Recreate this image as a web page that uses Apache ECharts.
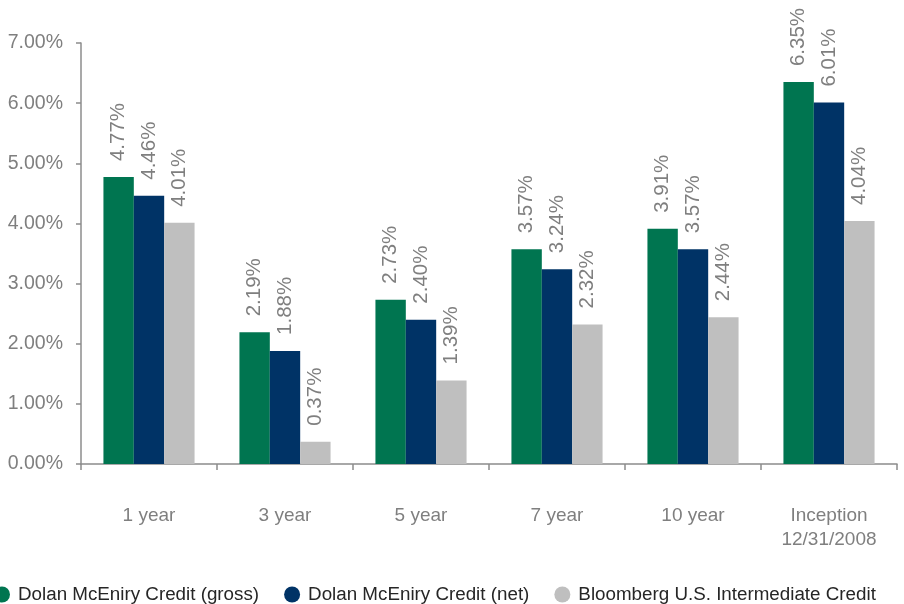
<!DOCTYPE html>
<html>
<head>
<meta charset="utf-8">
<script src="https://cdn.jsdelivr.net/npm/echarts@6/dist/echarts.min.js"></script>
<style>html,body{margin:0;padding:0;background:#fff;}#c{width:904px;height:604px;}</style>
</head>
<body>
<div id="c"></div>
<script>
const categories = ['1 year', '3 year', '5 year', '7 year', '10 year', 'Inception\n12/31/2008'];
const seriesNames = ['Dolan McEniry Credit (gross)', 'Dolan McEniry Credit (net)', 'Bloomberg U.S. Intermediate Credit'];
const grossValues = [4.77, 2.19, 2.73, 3.57, 3.91, 6.35];
const netValues = [4.46, 1.88, 2.40, 3.24, 3.57, 6.01];
const benchValues = [4.01, 0.37, 1.39, 2.32, 2.44, 4.04];
const colors = ['#007550', '#003366', '#BFBFBF'];

const font = 'Liberation Sans, Arial, sans-serif';
const labelCfg = {
  show: true,
  position: 'top',
  rotate: 90,
  align: 'left',
  verticalAlign: 'middle',
  distance: 16,
  color: '#7f7f7f',
  fontSize: 20.5,
  fontFamily: font,
  formatter: p => p.value.toFixed(2) + '%'
};
function mk(i, data) {
  return {
    name: seriesNames[i], type: 'bar', data: data,
    barGap: '0%', barCategoryGap: '33%',
    itemStyle: { color: colors[i] },
    label: labelCfg
  };
}
const chart = echarts.init(document.getElementById('c'));
chart.setOption({
  animation: false,
  grid: { left: 81, right: 7, top: 43, bottom: 140, containLabel: false },
  legend: {
    left: -6, top: 585, padding: 0,
    icon: 'circle', itemWidth: 16, itemHeight: 16, itemGap: 25,
    textStyle: { fontSize: 18.8, fontFamily: font, color: '#262626', padding: [0, 0, 0, 3] },
    data: seriesNames
  },
  xAxis: {
    type: 'category', data: categories,
    axisLine: { lineStyle: { color: '#8c8c8c', width: 1.5 } },
    axisTick: { show: true, length: 6, lineStyle: { color: '#8c8c8c', width: 1.5 } },
    axisLabel: { color: '#7f7f7f', fontSize: 19, fontFamily: font, margin: 40, lineHeight: 24 }
  },
  yAxis: {
    type: 'value', min: 0, max: 7, interval: 1,
    splitLine: { show: false },
    axisLine: { show: true, lineStyle: { color: '#8c8c8c', width: 1.5 } },
    axisTick: { show: true, length: 5, lineStyle: { color: '#8c8c8c', width: 1.5 } },
    axisLabel: { color: '#7f7f7f', fontSize: 19.5, fontFamily: font, margin: 18, formatter: v => v.toFixed(2) + '%' }
  },
  series: [mk(0, grossValues), mk(1, netValues), mk(2, benchValues)]
});
</script>
</body>
</html>
